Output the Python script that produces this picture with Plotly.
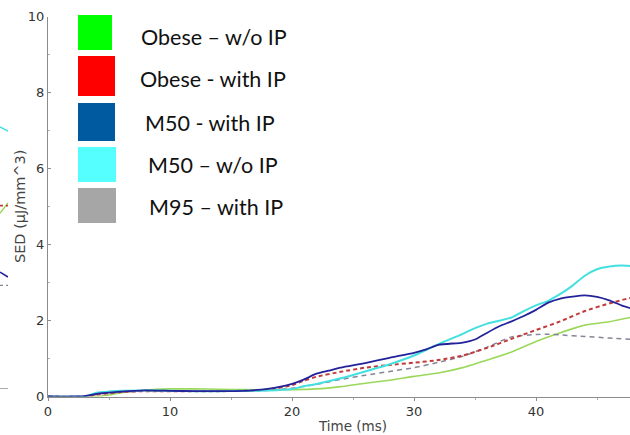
import plotly.graph_objects as go

W, H = 630, 435

# ---- data ----
t_m50_ip = [0, 2, 3, 4, 5, 6, 8, 10, 12, 14, 16, 18, 20, 21, 22, 23, 24, 26, 28, 30, 31, 32, 34, 35, 36, 37, 38, 39, 40, 41, 42, 43, 44, 45, 46, 47, 48]
sed_m50_ip = [0, 0, 0.01, 0.07, 0.10, 0.13, 0.16, 0.15, 0.14, 0.14, 0.15, 0.20, 0.33, 0.45, 0.60, 0.68, 0.76, 0.88, 1.02, 1.15, 1.24, 1.36, 1.42, 1.50, 1.68, 1.85, 1.98, 2.12, 2.28, 2.47, 2.58, 2.63, 2.66, 2.62, 2.53, 2.40, 2.30]

t_m50_noip = [0, 3, 3.5, 4, 5, 6, 8, 10, 12, 14, 16, 18, 20, 21, 22, 24, 26, 28, 30, 32, 34, 35, 36, 38, 39, 40, 41, 42, 43, 44, 45, 46, 47, 48]
sed_m50_noip = [0, 0, 0.05, 0.10, 0.13, 0.15, 0.16, 0.15, 0.14, 0.14, 0.15, 0.16, 0.20, 0.27, 0.33, 0.48, 0.66, 0.85, 1.08, 1.38, 1.65, 1.80, 1.92, 2.08, 2.25, 2.40, 2.52, 2.70, 2.92, 3.18, 3.35, 3.42, 3.45, 3.43]

t_obese_ip = [0, 3, 4, 5, 6, 8, 10, 12, 14, 16, 18, 20, 21, 22, 24, 26, 28, 30, 32, 34, 36, 38, 40, 42, 44, 46, 48]
sed_obese_ip = [0, 0, 0.05, 0.09, 0.12, 0.14, 0.14, 0.14, 0.14, 0.15, 0.18, 0.30, 0.42, 0.52, 0.65, 0.76, 0.83, 0.89, 0.96, 1.08, 1.28, 1.52, 1.75, 1.98, 2.25, 2.45, 2.62]

t_m95_ip = [0, 3, 4, 5, 6, 8, 10, 12, 14, 16, 18, 20, 22, 24, 26, 28, 30, 32, 34, 36, 38, 40, 41, 42, 44, 46, 48]
sed_m95_ip = [0, 0, 0.05, 0.09, 0.12, 0.14, 0.14, 0.14, 0.14, 0.15, 0.16, 0.22, 0.32, 0.45, 0.56, 0.66, 0.76, 0.90, 1.06, 1.30, 1.57, 1.63, 1.64, 1.62, 1.58, 1.54, 1.50]

t_obese_noip = [0, 4, 5, 6, 8, 10, 12, 14, 16, 18, 20, 22, 24, 26, 28, 30, 32, 34, 36, 38, 40, 42, 44, 46, 48]
sed_obese_noip = [0, 0, 0.04, 0.10, 0.17, 0.20, 0.20, 0.19, 0.18, 0.18, 0.18, 0.20, 0.26, 0.35, 0.43, 0.53, 0.62, 0.76, 0.96, 1.17, 1.45, 1.68, 1.88, 1.97, 2.10]

# tail ends of the neighbouring panel visible at the left edge
t_prev = [47.4, 48.0]
prev_m50_noip = [6.87, 6.76]
prev_obese_noip = [4.60, 4.87]
prev_obese_ip = [4.80, 4.80]
prev_m50_ip = [3.05, 2.92]
prev_m95_ip = [2.70, 2.70]

legend_labels = ["Obese \u2013 w/o IP", "Obese - with IP", "M50 - with IP", "M50 \u2013 w/o IP", "M95 \u2013 with IP"]
legend_colors = ["#00ff00", "#ff0000", "#005aa0", "#55ffff", "#a6a6a6"]

x_ticks = [0, 10, 20, 30, 40]
y_ticks = [0, 2, 4, 6, 8, 10]

# ---- styles ----
C_NAVY = "#23229b"
C_CYAN = "#44e0e0"
C_RED = "#c23a3a"
C_GRAY = "#858595"
C_GREEN = "#9bd85a"

# pixel helpers
def px(x):
    return x / W

def py(y):
    return 1 - y / H

X0, X1 = 48, 630
Y_TOP, Y_BOT = 16.7, 396.5

fig = go.Figure()

def add(t, v, color, dash, width, axes=("x", "y")):
    fig.add_trace(go.Scatter(x=t, y=v, mode="lines", xaxis=axes[0], yaxis=axes[1],
                             line=dict(color=color, width=width, dash=dash, shape="spline", smoothing=0.6),
                             showlegend=False, hoverinfo="skip"))

add(t_obese_noip, sed_obese_noip, C_GREEN, "solid", 1.6)
add(t_m95_ip, sed_m95_ip, C_GRAY, "5px,4px", 1.5)
add(t_obese_ip, sed_obese_ip, C_RED, "4px,3px", 2.0)
add(t_m50_noip, sed_m50_noip, C_CYAN, "solid", 2.0)
add(t_m50_ip, sed_m50_ip, C_NAVY, "solid", 1.8)

add(t_prev, prev_m50_noip, C_CYAN, "solid", 1.6, ("x2", "y2"))
add(t_prev, prev_obese_noip, C_GREEN, "solid", 1.4, ("x2", "y2"))
add(t_prev, prev_obese_ip, C_RED, "dot", 1.6, ("x2", "y2"))
add(t_prev, prev_m50_ip, C_NAVY, "solid", 1.6, ("x2", "y2"))
add(t_prev, prev_m95_ip, C_GRAY, "dot", 1.4, ("x2", "y2"))

tick_font = dict(family="DejaVu Sans", size=13, color="#333333")

fig.update_layout(
    width=W, height=H,
    margin=dict(l=0, r=0, t=0, b=0),
    paper_bgcolor="white", plot_bgcolor="white",
    xaxis=dict(domain=[px(X0), px(X1)], range=[0, (X1 - X0) / 12.2], anchor="y",
               tickvals=x_ticks, ticks="outside", ticklen=3, tickcolor="#8c8c8c",
               minor=dict(dtick=5, ticks="outside", ticklen=2, tickcolor="#aaaaaa"),
               showline=True, linecolor="#8c8c8c", linewidth=1, showgrid=False, zeroline=False,
               tickfont=tick_font, automargin=False),
    yaxis=dict(domain=[py(Y_BOT), py(Y_TOP)], range=[0, 10], anchor="x",
               tickvals=y_ticks, ticks="inside", ticklen=3, tickcolor="#8c8c8c",
               minor=dict(dtick=1, ticks="inside", ticklen=2, tickcolor="#aaaaaa"),
               showline=True, linecolor="#8c8c8c", linewidth=1, showgrid=False, zeroline=False,
               tickfont=tick_font, automargin=False),
    xaxis2=dict(domain=[0, px(8)], range=[47.4, 48.0], anchor="y2", showticklabels=False,
                ticks="", showline=True, linecolor="#aaaaaa", showgrid=False, zeroline=False),
    yaxis2=dict(domain=[py(388), py(Y_TOP - 8)], range=[0, (388 - Y_TOP + 8) / 38.0], anchor="x2",
                visible=False),
)

# axis titles
fig.add_annotation(x=px(352), y=py(426), xref="paper", yref="paper", text="Time (ms)",
                   xanchor="center", yanchor="middle",
                   showarrow=False, font=dict(family="DejaVu Sans", size=13.5, color="#444444"))
fig.add_annotation(x=px(20), y=py(207), xref="paper", yref="paper", text="SED (\u03bcJ/mm^3)",
                   xanchor="center", yanchor="middle",
                   textangle=-90, showarrow=False, font=dict(family="DejaVu Sans", size=14.5, color="#444444"))

# overlay legend (colour boxes + labels)
box_rows = [(15, 50, 112), (56, 96, 115), (103, 141, 115), (147, 182, 116), (188, 223, 116)]
text_pos = [(139, 36.7), (138, 79), (143, 123), (146, 165), (147, 207)]
for (y0, y1, x1), (tx, ty), lab, col in zip(box_rows, text_pos, legend_labels, legend_colors):
    fig.add_shape(type="rect", xref="paper", yref="paper", x0=px(78), x1=px(x1), y0=py(y1), y1=py(y0),
                  fillcolor=col, line=dict(width=0))
    fig.add_annotation(x=px(tx), y=py(ty), xref="paper", yref="paper", text=lab, showarrow=False,
                       xanchor="left", yanchor="middle", font=dict(family="Lato", size=21.5, color="#111111"))

fig.write_html("out.html", config={"displayModeBar": False},
               post_script="document.body.style.margin='0';document.body.style.overflow='hidden';")
